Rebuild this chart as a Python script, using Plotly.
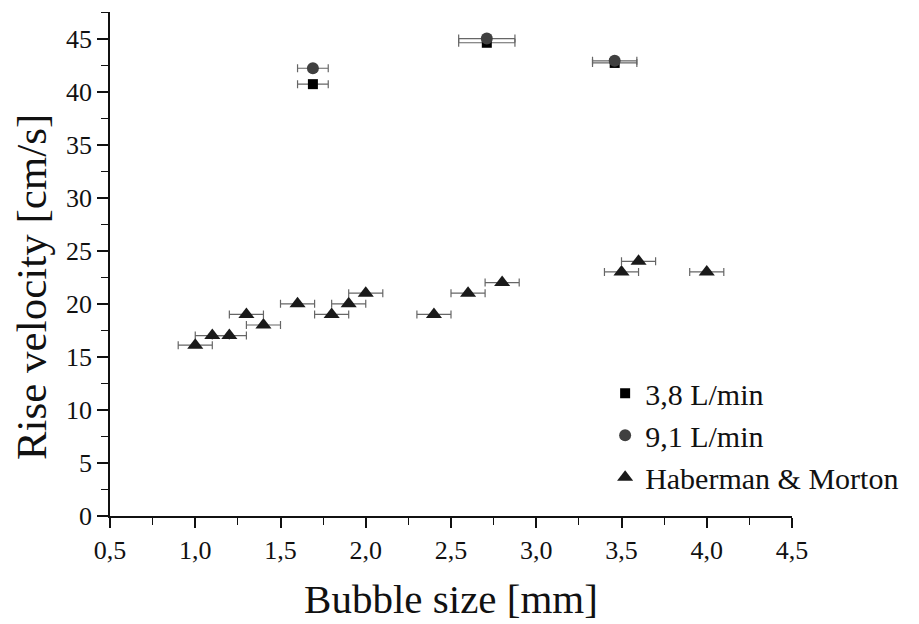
import plotly.graph_objects as go

# Data
x_38 = [1.69, 2.71, 3.46]
y_38 = [40.7, 44.6, 42.7]
ex_38 = [0.09, 0.165, 0.13]

x_91 = [1.69, 2.71, 3.46]
y_91 = [42.2, 45.0, 42.9]
ex_91 = [0.09, 0.165, 0.13]

x_hm = [1.0, 1.1, 1.2, 1.3, 1.4, 1.6, 1.8, 1.9, 2.0, 2.4, 2.6, 2.8, 3.5, 3.6, 4.0]
y_hm = [16.1, 17.0, 17.0, 19.0, 18.0, 20.0, 19.0, 20.0, 21.0, 19.0, 21.0, 22.0, 23.0, 24.0, 23.0]
ex_hm = [0.1] * len(x_hm)

FONT = "Times New Roman, Liberation Serif, serif"
err_style = dict(type="data", visible=True, color="#666666", thickness=1.2, width=4)

fig = go.Figure()
fig.add_trace(go.Scatter(
    x=x_38, y=y_38, mode="markers", name="3,8 L/min",
    marker=dict(symbol="square", size=10, color="#000000"),
    error_x=dict(array=ex_38, **err_style)))
fig.add_trace(go.Scatter(
    x=x_91, y=y_91, mode="markers", name="9,1 L/min",
    marker=dict(symbol="circle", size=12, color="#404040"),
    error_x=dict(array=ex_91, **err_style)))
fig.add_trace(go.Scatter(
    x=x_hm, y=y_hm, mode="markers", name="Haberman & Morton",
    marker=dict(symbol="triangle-up", size=14, color="#1a1a1a"),
    error_x=dict(array=ex_hm, **err_style)))

fig.update_layout(
    width=919, height=624,
    paper_bgcolor="white", plot_bgcolor="white",
    separators=",.",
    margin=dict(l=102, r=135, t=4, b=116, autoexpand=False),
    font=dict(family=FONT, color="#111111"),
    showlegend=True,
    legend=dict(x=0.726, y=0.295, xanchor="left", yanchor="top",
                font=dict(size=30, family=FONT, color="#111111"),
                bgcolor="rgba(0,0,0,0)", tracegroupgap=0),
    xaxis=dict(
        range=[0.5, 4.5], tick0=0.5, dtick=0.5, tickformat=".1f",
        showgrid=False, zeroline=False, showline=True, linecolor="#111111", linewidth=1.5,
        ticks="outside", ticklen=10, tickwidth=1.5, tickcolor="#111111",
        minor=dict(ticks="outside", ticklen=7, tickwidth=1.2, dtick=0.25, tickcolor="#111111"),
        tickfont=dict(size=26, family=FONT),
        title=dict(text="Bubble size [mm]", font=dict(size=41, family=FONT), standoff=20),
        automargin=False,
    ),
    yaxis=dict(
        range=[0, 47.5], tick0=0, dtick=5,
        showgrid=False, zeroline=False, showline=True, linecolor="#111111", linewidth=1.5,
        ticks="outside", ticklen=11, tickwidth=1.5, tickcolor="#111111",
        minor=dict(ticks="outside", ticklen=7, tickwidth=1.2, dtick=2.5, tickcolor="#111111"),
        tickfont=dict(size=26, family=FONT),
        automargin=False,
    ),
    annotations=[dict(
        text="Rise velocity [cm/s]", textangle=-90, showarrow=False,
        xref="paper", yref="paper", x=-0.116, y=0.454,
        xanchor="center", yanchor="middle",
        font=dict(size=43, family=FONT, color="#111111"),
    )],
)

fig.write_html("out.html")
